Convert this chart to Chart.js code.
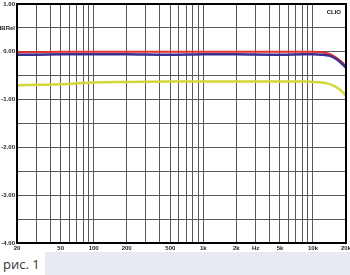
<!DOCTYPE html>
<html>
<head>
<meta charset="utf-8">
<script src="https://cdn.jsdelivr.net/npm/chart.js@4"></script>
<style>
  body { margin: 0; background: #fff; width: 350px; height: 275px; overflow: hidden; position: relative; }
  #wrap { position: absolute; left: 0; top: 0; width: 350px; height: 252px; }
  #cap { position: absolute; left: 3px; top: 255px; font: 13px "Open Sans", sans-serif; color: #333; }
  #bar { position: absolute; left: 45px; top: 252px; width: 305px; height: 23px; background: #e8eaf3; }
</style>
</head>
<body>
<div id="wrap"><canvas id="myChart" width="350" height="252"></canvas></div>
<div id="bar"></div>
<div id="cap">рис. 1</div>
<script>
// frequency points (Hz)
const freqs = [20, 30, 50, 70, 100, 200, 500, 1000, 2000, 5000, 8000, 10000, 12000, 14000, 16000, 18000, 20000];
// level, dBRel
const redLevel = [-0.01, -0.01, 0.0, 0.0, 0.0, 0.0, 0.0, 0.0, 0.0, 0.0, 0.0, 0.0, -0.01, -0.04, -0.11, -0.2, -0.3];
const blueLevel = [-0.06, -0.06, -0.05, -0.05, -0.05, -0.05, -0.06, -0.05, -0.05, -0.06, -0.05, -0.05, -0.06, -0.08, -0.14, -0.23, -0.33];
const yellowLevel = [-0.7, -0.69, -0.68, -0.66, -0.64, -0.63, -0.62, -0.62, -0.62, -0.62, -0.62, -0.63, -0.64, -0.67, -0.73, -0.81, -0.92];

const gridFreqs = [20, 30, 40, 50, 60, 70, 80, 90, 100, 200, 300, 400, 500, 600, 700, 800, 900,
  1000, 2000, 3000, 4000, 5000, 6000, 7000, 8000, 9000, 10000, 20000];
const xLabels = { 20: '20', 50: '50', 100: '100', 200: '200', 500: '500', 1000: '1k', 2000: '2k', 3000: 'Hz', 5000: '5k', 10000: '10k', 20000: '20k' };

const toPoints = (vals) => freqs.map((f, i) => ({ x: f, y: vals[i] }));

const frame = {
  id: 'frame',
  afterDraw(chart) {
    const { ctx, chartArea: a } = chart;
    ctx.save();
    ctx.strokeStyle = '#000';
    ctx.lineWidth = 2;
    ctx.strokeRect(a.left, a.top, a.right - a.left, a.bottom - a.top);
    ctx.fillStyle = '#111';
    ctx.font = 'bold 6px "Liberation Sans", Arial, sans-serif';
    ctx.textAlign = 'right';
    ctx.fillText('CLIO', a.right - 5, a.top + 10);
    ctx.restore();
  }
};

const tickFont = { family: '"Liberation Sans", Arial, sans-serif', size: 6, weight: 'bold' };

new Chart(document.getElementById('myChart'), {
  type: 'line',
  data: {
    datasets: [
      { label: 'L', data: toPoints(yellowLevel), borderColor: '#d3d838', borderWidth: 2.5, pointRadius: 0, tension: 0.3 },
      { label: 'R', data: toPoints(blueLevel), borderColor: '#3a2f92', borderWidth: 2.5, pointRadius: 0, tension: 0.3 },
      { label: 'M', data: toPoints(redLevel), borderColor: '#e5312b', borderWidth: 2, pointRadius: 0, tension: 0.3 },
    ],
  },
  options: {
    responsive: false,
    animation: false,
    layout: { padding: { top: 4, right: 4, left: 0, bottom: 0 } },
    plugins: { legend: { display: false }, tooltip: { enabled: false } },
    scales: {
      x: {
        type: 'logarithmic',
        min: 20,
        max: 20000,
        afterBuildTicks: (scale) => { scale.ticks = gridFreqs.map((v) => ({ value: v })); },
        afterFit: (scale) => { scale.height = 9; scale.paddingLeft = 0; scale.paddingRight = 0; },
        grid: { color: '#5a5a5a', lineWidth: 1, drawTicks: false },
        border: { color: '#000', width: 2 },
        ticks: {
          autoSkip: false, maxRotation: 0, padding: 2, color: '#222', font: tickFont,
          callback: (v) => xLabels[v] || '',
        },
      },
      y: {
        min: -4,
        max: 1,
        afterFit: (scale) => { scale.width = 17; scale.paddingTop = 0; scale.paddingBottom = 0; },
        grid: { color: '#5a5a5a', lineWidth: 1, drawTicks: false },
        border: { color: '#000', width: 2 },
        ticks: {
          stepSize: 0.5, padding: 2, color: '#222', font: tickFont,
          callback: (v) => v === 0.5 ? 'dBRel' : (Number.isInteger(v) ? v.toFixed(2) : ''),
        },
      },
    },
  },
  plugins: [frame],
});
</script>
</body>
</html>
